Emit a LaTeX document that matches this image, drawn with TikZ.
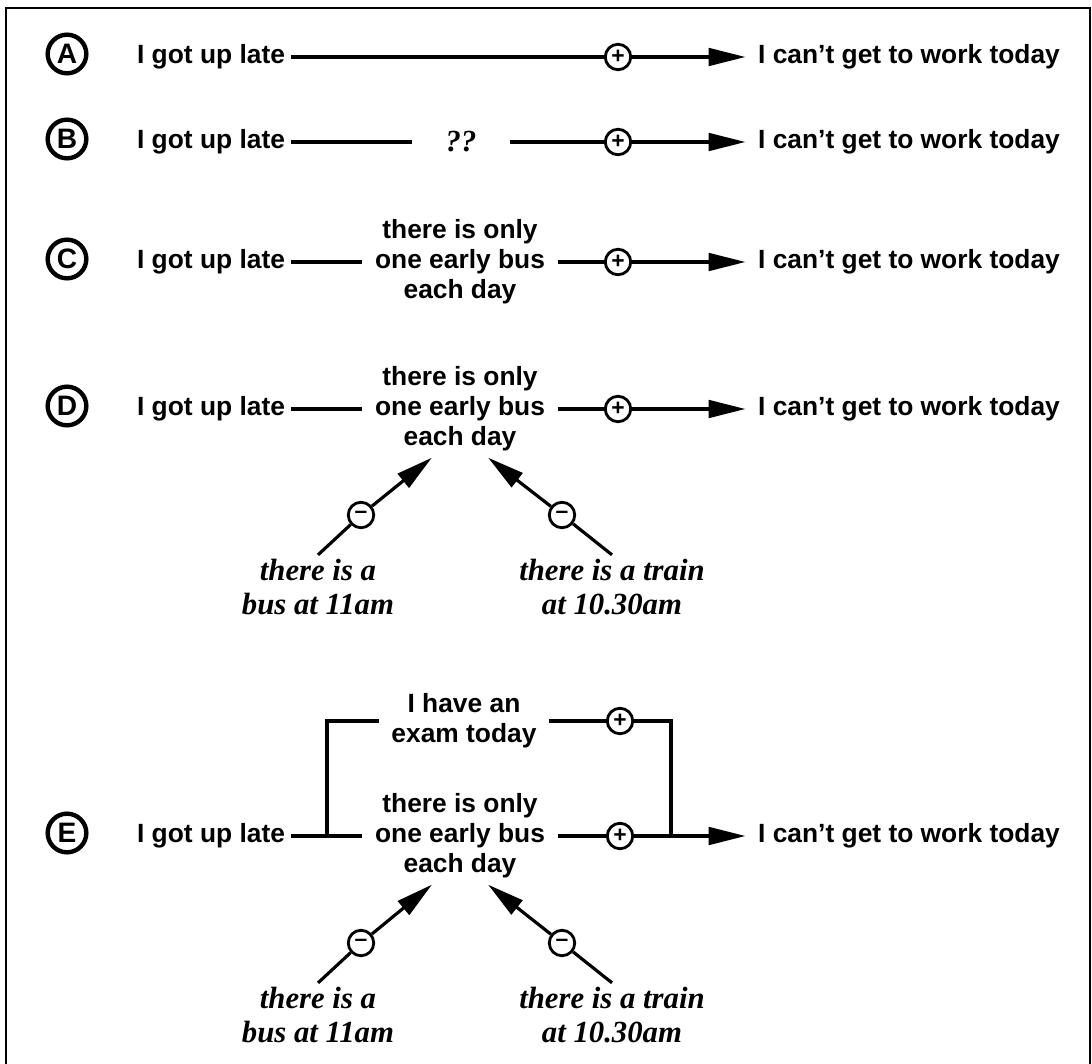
\documentclass[tikz,border=0pt]{standalone}
\usepackage{fontspec}
\setmainfont{Liberation Sans}
\newfontfamily\serifit{Liberation Serif}
\usetikzlibrary{arrows.meta}

\begin{document}
\begin{tikzpicture}[x=0.02cm,y=-0.02cm,
  txt/.style={font=\bfseries\fontsize{15}{17}\selectfont,align=center,inner xsep=3pt,inner ysep=3.5pt},
  mid/.style={txt,inner xsep=7pt},
  tgt/.style={txt,inner xsep=7pt},
  ital/.style={font=\serifit\bfseries\itshape\fontsize{17.5}{19.8}\selectfont,align=center,inner sep=2pt},
  lbl/.style={draw,circle,line width=2.5pt,minimum size=22pt,inner sep=0pt,font=\bfseries\fontsize{16}{16}\selectfont},
  sign/.style={draw,circle,fill=white,line width=1.6pt,minimum size=14.5pt,inner sep=0pt,font=\bfseries\fontsize{13}{13}\selectfont},
  ln/.style={line width=1.8pt},
  arr/.style={ln,-{Triangle[length=21pt,width=10pt]}}
]
\useasboundingbox (0,0) rectangle (1092,1064);
\draw[line width=1.3pt] (6,8) rectangle (1090,1070);

% A
\node[lbl] (lblA) at (67,54) {A};
\node[txt] (srcA) at (211,57) {I got up late};
\node[sign] (plA) at (618,57) {+};
\node[tgt] (tgtA) at (909,57) {I can’t get to work today};
\draw[ln] (srcA) -- (plA);
\draw[arr] (plA) -- (tgtA);

% B
\node[lbl] (lblB) at (67,139) {B};
\node[txt] (srcB) at (211,142) {I got up late};
\node[ital,inner xsep=19pt] (qB) at (461,142) {??};
\node[sign] (plB) at (618,142) {+};
\node[tgt] (tgtB) at (909,142) {I can’t get to work today};
\draw[ln] (srcB) -- (qB);
\draw[ln] (qB) -- (plB);
\draw[arr] (plB) -- (tgtB);

% C
\node[lbl] (lblC) at (67,259) {C};
\node[txt] (srcC) at (211,262) {I got up late};
\node[mid] (midC) at (460,262) {there is only\\one early bus\\each day};
\node[sign] (plC) at (618,262) {+};
\node[tgt] (tgtC) at (909,262) {I can’t get to work today};
\draw[ln] (srcC) -- (midC);
\draw[ln] (midC) -- (plC);
\draw[arr] (plC) -- (tgtC);

% D
\node[lbl] (lblD) at (67,406) {D};
\node[txt] (srcD) at (211,409) {I got up late};
\node[mid] (midD) at (460,409) {there is only\\one early bus\\each day};
\node[sign] (plD) at (618,409) {+};
\node[tgt] (tgtD) at (909,409) {I can’t get to work today};
\node[ital] (busD) at (318,587) {there is a\\bus at 11am};
\node[ital] (trainD) at (612,587) {there is a train\\at 10.30am};
\node[sign] (mnD1) at (361,515) {–};
\node[sign] (mnD2) at (562,515) {–};
\draw[ln] (srcD) -- (midD);
\draw[ln] (midD) -- (plD);
\draw[arr] (plD) -- (tgtD);
\draw[ln] (busD.north) -- (mnD1);
\draw[arr] (mnD1) -- (midD.240);
\draw[ln] (trainD.north) -- (mnD2);
\draw[arr] (mnD2) -- (midD.300);

% E
\node[lbl] (lblE) at (67,833) {E};
\node[txt] (srcE) at (211,836) {I got up late};
\node[mid] (examE) at (464,721) {I have an\\exam today};
\node[mid] (midE) at (460,836) {there is only\\one early bus\\each day};
\node[sign] (plE1) at (620,721) {+};
\node[sign] (plE2) at (620,836) {+};
\coordinate (jL) at (327,836);
\coordinate (jR) at (671,836);
\node[tgt] (tgtE) at (909,836) {I can’t get to work today};
\node[ital] (busE) at (318,1015) {there is a\\bus at 11am};
\node[ital] (trainE) at (612,1015) {there is a train\\at 10.30am};
\node[sign] (mnE1) at (361,943) {–};
\node[sign] (mnE2) at (562,943) {–};
\draw[ln] (srcE) -- (midE);
\draw[ln] (jL) |- (examE);
\draw[ln] (examE) -- (plE1) -| (jR);
\draw[ln] (midE) -- (plE2) -- (jR);
\draw[arr] (jR) -- (tgtE);
\draw[ln] (busE.north) -- (mnE1);
\draw[arr] (mnE1) -- (midE.240);
\draw[ln] (trainE.north) -- (mnE2);
\draw[arr] (mnE2) -- (midE.300);

\end{tikzpicture}
\end{document}
